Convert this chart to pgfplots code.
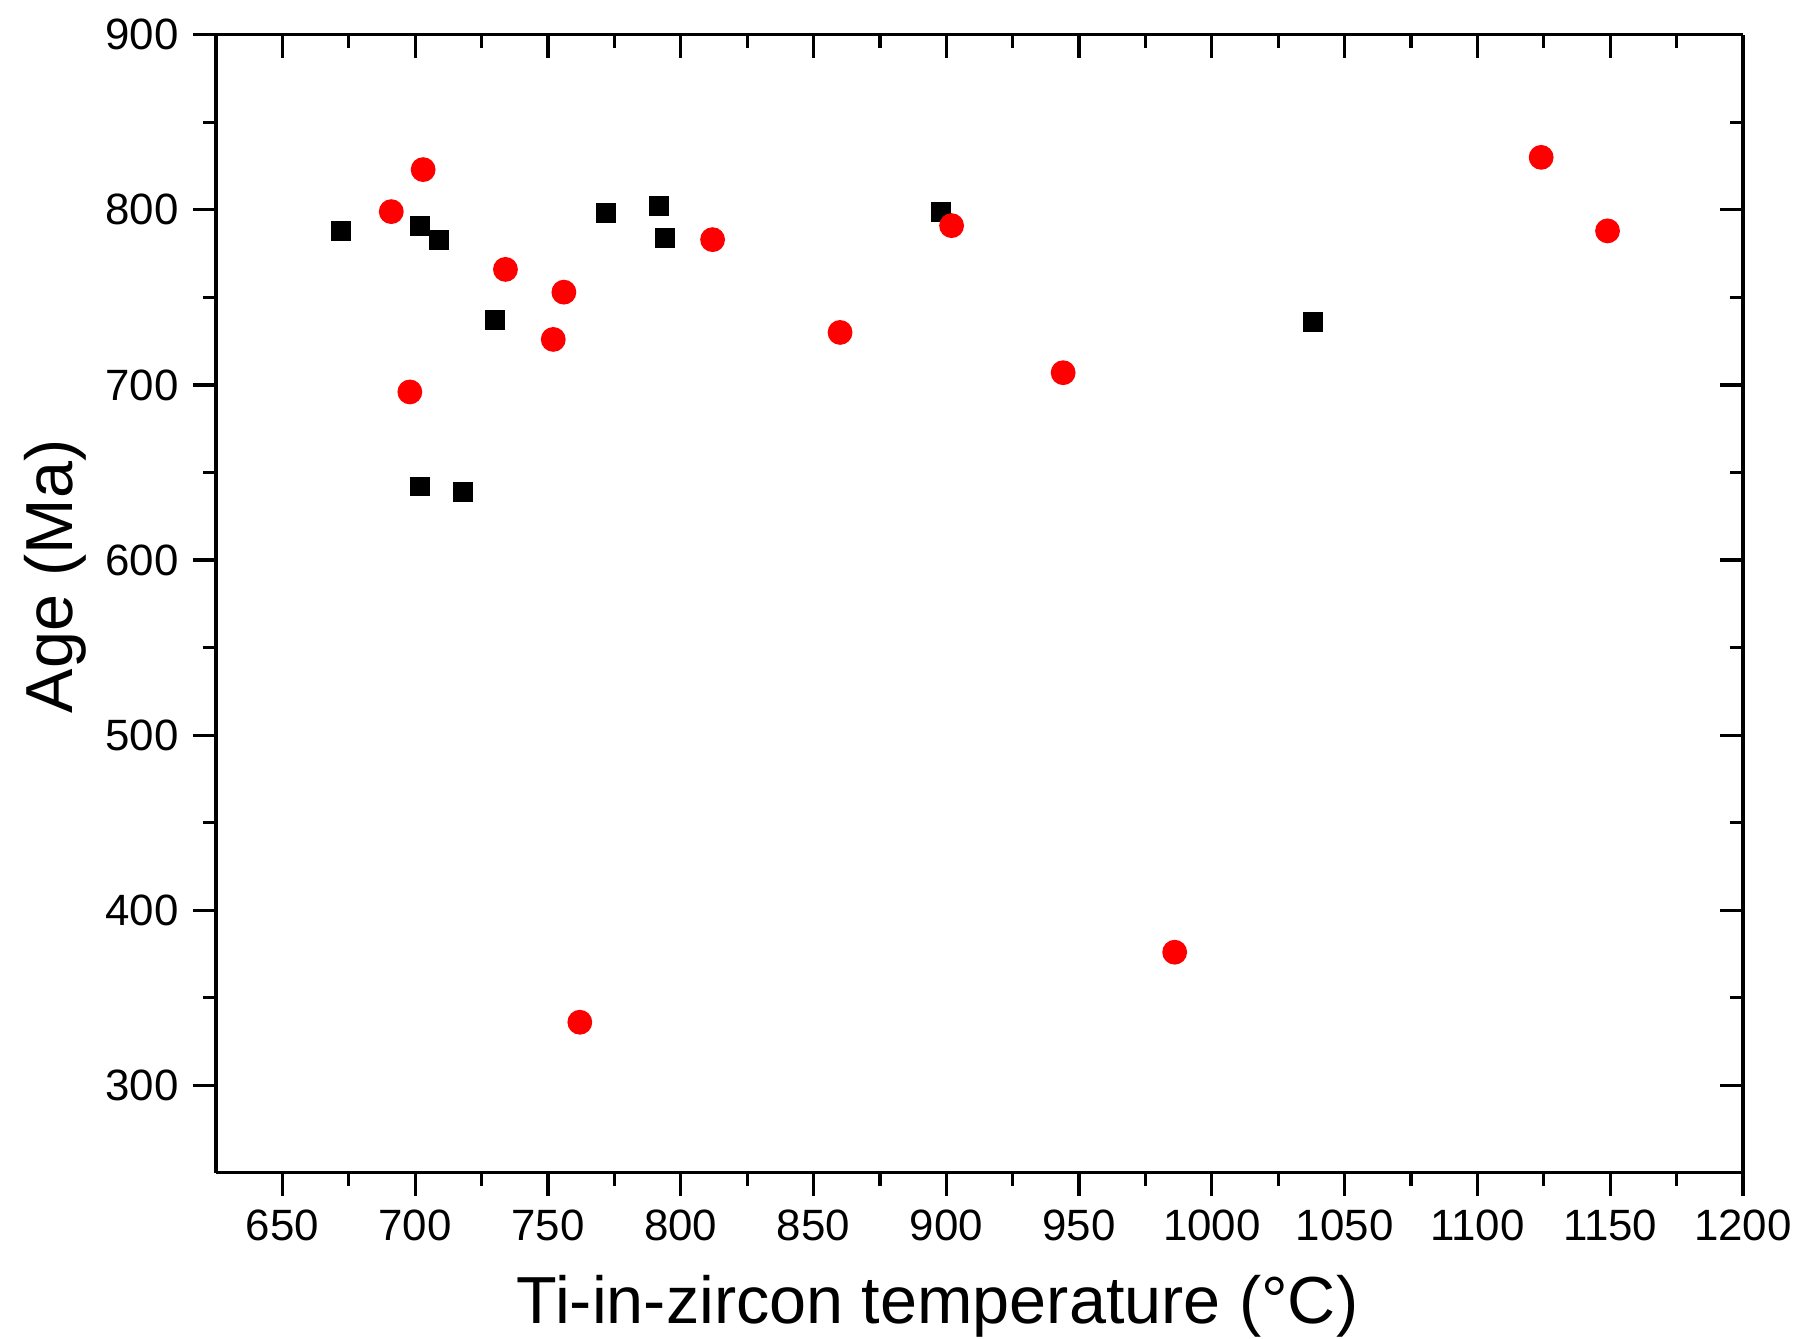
\documentclass[border=0pt]{standalone}
\usepackage{fontspec}
\setmainfont{Liberation Sans}
\usepackage{pgfplots}
\pgfplotsset{compat=1.18}
\begin{document}
\begin{tikzpicture}
\pgfplotsset{
  common/.style={
    scale only axis,
    width=381.75bp, height=284.5bp,
    xmin=625, xmax=1200, ymin=250, ymax=900,
    xtick={650,700,...,1200}, ytick={300,400,...,900},
    minor x tick num=1, minor y tick num=1,
    major tick length=5.8bp, minor tick length=3.3bp,
    axis line style={-, line width=0.8bp},
    every tick/.style={black, line width=0.8bp},
    /pgf/number format/assume math mode=true,
    /pgf/number format/set thousands separator={},
    tick label style={font=\fontsize{11}{13}\selectfont},
  }
}
\begin{axis}[common, name=ax,
  axis x line*=bottom, axis y line*=left, tick align=outside,
  xlabel={Ti-in-zircon temperature (°C)},
  ylabel={Age (Ma)},
  label style={font=\fontsize{16.7}{19}\selectfont},
  xlabel style={at={(axis description cs:0.4726,-0.1176)}, anchor=center},
  ylabel style={at={(axis description cs:-0.105,0.524)}, anchor=center},
  clip=false]
\addplot[only marks, mark=square*, mark size=2.3bp, black] coordinates {
(672,788) (702,791) (709,783) (730,737) (772,798) (792,802) (794,784)
(898,799) (1038,736) (702,642) (718,639)
};
\addplot[only marks, mark=*, mark size=2.9bp, red, mark options={draw=red, fill=red}] coordinates {
(691,799) (703,823) (698,696) (734,766) (756,753) (752,726) (762,336)
(812,783) (860,730) (902,791) (944,707) (986,376) (1124,830) (1149,788)
};
\end{axis}
\begin{axis}[common,
  axis x line*=top, axis y line*=right, tick align=inside,
  xticklabels={}, yticklabels={}]
\end{axis}
\pgfresetboundingbox
\path[use as bounding box] ([xshift=-54bp,yshift=-41.5bp]ax.south west) rectangle ([xshift=17.25bp,yshift=8.7bp]ax.north east);
\end{tikzpicture}
\end{document}
